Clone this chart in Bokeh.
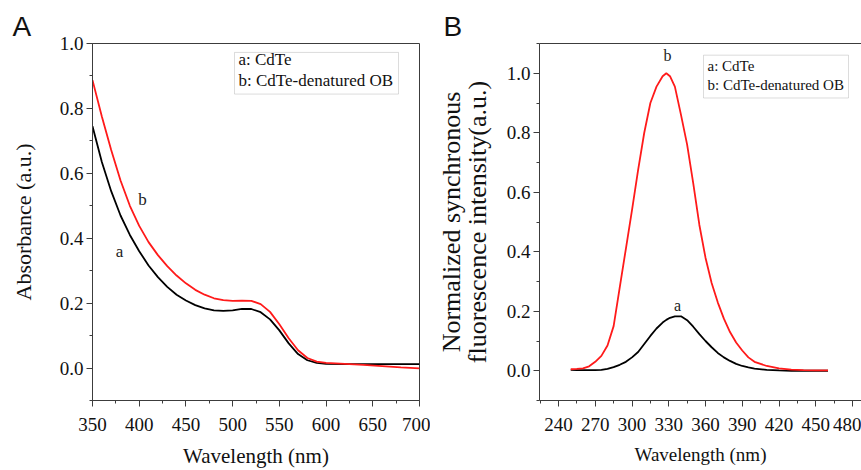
from bokeh.plotting import figure
from bokeh.models import (SingleIntervalTicker, FixedTicker, LinearAxis, Range1d, Label,
                          BoxAnnotation, PrintfTickFormatter)
from bokeh.layouts import row
from bokeh.embed import file_html
from bokeh.resources import INLINE

# ---------------- data ----------------
# Panel A: UV-vis absorbance
wl_abs = [350, 360, 370, 380, 390, 400, 410, 420, 430, 440, 450, 460, 470, 480,
          490, 500, 510, 520, 530, 540, 550, 560, 570, 580, 590, 600, 620, 640,
          660, 680, 700]
abs_cdte = [0.745, 0.635, 0.545, 0.470, 0.410, 0.360, 0.316, 0.280, 0.250, 0.226,
            0.208, 0.194, 0.184, 0.178, 0.176, 0.178, 0.182, 0.182, 0.172, 0.150,
            0.116, 0.076, 0.043, 0.024, 0.016, 0.013, 0.012, 0.012, 0.012, 0.012,
            0.012]
abs_cdte_ob = [0.887, 0.775, 0.672, 0.578, 0.500, 0.438, 0.388, 0.348, 0.314, 0.285,
               0.261, 0.241, 0.226, 0.215, 0.209, 0.207, 0.208, 0.207, 0.197, 0.173,
               0.135, 0.092, 0.055, 0.031, 0.020, 0.016, 0.013, 0.010, 0.006, 0.002,
               -0.001]

# Panel B: normalized synchronous fluorescence
wl_fl = [250, 255, 260, 265, 270, 275, 280, 285, 290, 295, 300, 305, 310, 315, 320,
         325, 328, 331, 335, 340, 345, 350, 355, 360, 365, 370, 375, 380, 385, 390,
         395, 400, 410, 420, 430, 440, 450, 460]
fl_cdte = [0.003, 0.002, 0.002, 0.002, 0.002, 0.003, 0.006, 0.012, 0.020, 0.030,
           0.045, 0.063, 0.090, 0.117, 0.142, 0.162, 0.171, 0.178, 0.183, 0.183,
           0.170, 0.148, 0.123, 0.100, 0.079, 0.060, 0.045, 0.033, 0.023, 0.016,
           0.011, 0.007, 0.003, 0.001, 0.0, 0.0, 0.0, 0.0]
fl_cdte_ob = [0.005, 0.006, 0.008, 0.015, 0.030, 0.050, 0.085, 0.150, 0.280, 0.410,
              0.540, 0.675, 0.800, 0.900, 0.955, 0.990, 1.000, 0.990, 0.955, 0.860,
              0.760, 0.630, 0.490, 0.380, 0.295, 0.230, 0.175, 0.130, 0.095, 0.068,
              0.045, 0.030, 0.016, 0.008, 0.004, 0.002, 0.001, 0.001]

legend_a = "a: CdTe"
legend_b = "b: CdTe-denatured OB"

SERIF = "Liberation Serif"
SANS = "Liberation Sans"
AXC = "#3c3c3c"
RED = "#ff1a1a"


def style(p, xint, yint):
    p.xaxis.ticker = SingleIntervalTicker(interval=xint, num_minor_ticks=2)
    p.yaxis.ticker = SingleIntervalTicker(interval=yint, num_minor_ticks=2)
    p.yaxis.formatter = PrintfTickFormatter(format="%.1f")
    for ax in (p.xaxis[0], p.yaxis[0]):
        ax.axis_line_color = AXC
        ax.major_tick_line_color = AXC
        ax.minor_tick_line_color = AXC
        ax.major_tick_in = 0
        ax.major_tick_out = 6
        ax.minor_tick_in = 0
        ax.minor_tick_out = 3
        ax.major_label_text_font = SERIF
        ax.major_label_text_font_size = "19px"
        ax.major_label_text_color = "#111111"
        ax.axis_label_text_font = SERIF
        ax.axis_label_text_font_style = "normal"
        ax.axis_label_text_color = "#111111"
    p.xaxis.major_label_standoff = 11
    p.xaxis.axis_label_standoff = 10
    p.yaxis.major_label_standoff = 3
    p.xgrid.visible = False
    p.ygrid.visible = False
    p.background_fill_color = "white"
    p.border_fill_color = "white"
    p.title.align = "left"
    p.title.text_font = SANS
    p.title.text_font_size = "28px"
    p.title.text_font_style = "normal"
    p.title.text_color = "#111111"
    p.title.standoff = 4


# ---------------- Panel A ----------------
pA = figure(width=430, height=470, x_range=Range1d(350, 700), y_range=Range1d(-0.1, 1.0),
            output_backend="svg", toolbar_location=None, title="A",
            min_border_left=92, min_border_right=11, min_border_top=43, min_border_bottom=67)
style(pA, 50, 0.2)
pA.title.offset = -80
pA.xaxis.axis_label = "Wavelength (nm)"
pA.yaxis.axis_label = "Absorbance (a.u.)"
pA.xaxis.axis_label_text_font_size = "21px"
pA.yaxis.axis_label_text_font_size = "22px"
pA.yaxis.axis_label_standoff = 21
pA.outline_line_color = AXC
pA.outline_line_alpha = 1

pA.line(wl_abs, abs_cdte, line_color="black", line_width=1.8)
pA.line(wl_abs, abs_cdte_ob, line_color=RED, line_width=1.8)


def ax_(px):
    return 350 + (px - 92) * 350.0 / 327.0


def ay_(py):
    return -0.1 + (403 - py) * 1.1 / 360.0


pA.add_layout(BoxAnnotation(left=ax_(234), right=ax_(398), top=ay_(52), bottom=ay_(94),
                            fill_color="white", fill_alpha=1, line_color="#8c8c8c", line_width=1))
pA.add_layout(Label(x=ax_(238), y=ay_(69), text=legend_a, text_font=SERIF,
                    text_font_size="17px", text_color="#111111"))
pA.add_layout(Label(x=ax_(238), y=ay_(90), text=legend_b, text_font=SERIF,
                    text_font_size="17px", text_color="#111111"))
pA.add_layout(Label(x=ax_(142), y=ay_(200), text="b", text_font=SERIF, text_font_size="17px",
                    text_align="center", text_baseline="middle", text_color="#222222"))
pA.add_layout(Label(x=ax_(119), y=ay_(253), text="a", text_font=SERIF, text_font_size="17px",
                    text_align="center", text_baseline="middle", text_color="#222222"))

# ---------------- Panel B ----------------


def bx_(px):
    return 240 + (px - 558) / 1.225


def by_(py):
    return -0.1 + (403 - py) * 1.2 / 367.0


pB = figure(width=431, height=470, x_range=Range1d(bx_(539), bx_(861)), y_range=Range1d(-0.1, 1.1),
            output_backend="svg", toolbar_location=None, title="B",
            min_border_left=109, min_border_right=0, min_border_top=36, min_border_bottom=67)
style(pB, 30, 0.2)
pB.title.offset = -96
pB.xaxis.axis_label = "Wavelength (nm)"
pB.yaxis.axis_label = "Normalized synchronous\nfluorescence intensity(a.u.)"
pB.xaxis.axis_label_text_font_size = "19px"
pB.yaxis.axis_label_text_font_size = "26px"
pB.yaxis.axis_label_text_line_height = 0.9
pB.yaxis.axis_label_standoff = 12
pB.outline_line_color = None
top_ax = LinearAxis(ticker=FixedTicker(ticks=[]), axis_line_color=AXC,
                    major_tick_line_color=None, minor_tick_line_color=None,
                    major_tick_out=0, minor_tick_out=0, major_label_standoff=0)
pB.add_layout(top_ax, "above")

pB.line(wl_fl, fl_cdte, line_color="black", line_width=1.8)
pB.line(wl_fl, fl_cdte_ob, line_color=RED, line_width=1.8)

pB.add_layout(BoxAnnotation(left=bx_(703), right=bx_(848), top=by_(48), bottom=by_(92),
                            fill_color="white", fill_alpha=1, line_color="#8c8c8c", line_width=1))
pB.add_layout(Label(x=bx_(707), y=by_(67), text=legend_a, text_font=SERIF,
                    text_font_size="15px", text_color="#111111"))
pB.add_layout(Label(x=bx_(707), y=by_(87), text=legend_b, text_font=SERIF,
                    text_font_size="15px", text_color="#111111"))
pB.add_layout(Label(x=bx_(667), y=by_(48), text="b", text_font=SERIF, text_font_size="16px",
                    text_align="center", text_baseline="middle", text_color="#222222"))
pB.add_layout(Label(x=bx_(677), y=by_(305), text="a", text_font=SERIF, text_font_size="16px",
                    text_align="center", text_baseline="middle", text_color="#222222"))

layout = row(pA, pB)
open("out.html", "w").write(file_html(layout, INLINE))
